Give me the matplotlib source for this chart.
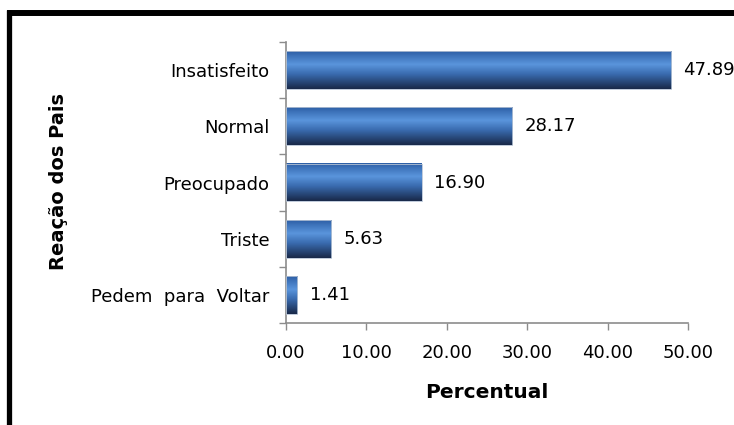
#!/usr/bin/env python3
"""Horizontal bar chart: Reação dos Pais (percentual)."""
import numpy as np
import matplotlib
matplotlib.use("Agg")
import matplotlib.pyplot as plt
from matplotlib.colors import LinearSegmentedColormap
from matplotlib.lines import Line2D

categories = ["Pedem  para  Voltar", "Triste", "Preocupado", "Normal", "Insatisfeito"]
values = [1.41, 5.63, 16.90, 28.17, 47.89]
xticks = [0, 10, 20, 30, 40, 50]

plt.rcParams["font.family"] = ["DejaVu Sans"]

W, H = 734, 425
fig = plt.figure(figsize=(W / 100, H / 100), dpi=100)
ax = fig.add_axes([286 / W, 1 - 323 / H, (688 - 286) / W, (323 - 42) / H])

# vertical gradient for the bars: mid blue (top) -> light blue -> dark navy (bottom)
cmap = LinearSegmentedColormap.from_list(
    "bar", [(0.0, "#2d5fa6"), (0.35, "#5a95dc"), (0.6, "#3a6cb0"), (1.0, "#182848")])
grad = np.linspace(0, 1, 256).reshape(-1, 1)

bar_h = 0.67
bars = ax.barh(range(len(values)), values, height=bar_h, color="none",
               edgecolor="#b4c2d4", linewidth=0.6, zorder=3)
for i, v in enumerate(values):
    y0 = i - bar_h / 2
    ax.imshow(grad, cmap=cmap, aspect="auto", extent=(0, v, y0, y0 + bar_h),
              origin="upper", zorder=2, interpolation="bilinear")
    ax.annotate(f"{v:.2f}", xy=(v, i), xytext=(9, 0), textcoords="offset points",
                va="center", ha="left", fontsize=13, color="black")

ax.set_xlim(0, 50)
ax.set_ylim(-0.5, len(values) - 0.5)

ax.set_xticks(xticks)
ax.set_xticklabels([f"{t:.2f}" for t in xticks], fontsize=13)
ax.set_yticks(range(len(categories)))
ax.set_yticklabels(categories, fontsize=13)
ax.set_yticks(np.arange(-0.5, len(values)), minor=True)
ax.tick_params(axis="y", which="major", length=0, pad=12)
ax.tick_params(axis="y", which="minor", length=5, color="#8c8c8c", width=1)
ax.tick_params(axis="x", length=5, color="#8c8c8c", width=1, pad=10)

for s in ("top", "right"):
    ax.spines[s].set_visible(False)
for s in ("left", "bottom"):
    ax.spines[s].set_color("#8c8c8c")
    ax.spines[s].set_linewidth(1.2)

ax.set_xlabel("Percentual", fontsize=14.5, fontweight="bold", labelpad=15)
fig.text(58 / W, 1 - 182 / H, "Reação dos Pais", rotation=90, fontsize=14,
         fontweight="bold", ha="center", va="center")

# thick black frame (cropped at right and bottom)
fig.add_artist(Line2D([8.5 / W, 8.5 / W], [0, 1 - 10 / H], transform=fig.transFigure,
                      color="black", linewidth=3.8, solid_capstyle="butt"))
fig.add_artist(Line2D([6.5 / W, 1], [1 - 13 / H, 1 - 13 / H], transform=fig.transFigure,
                      color="black", linewidth=4.3, solid_capstyle="butt"))

fig.savefig("out.png", dpi=100)
